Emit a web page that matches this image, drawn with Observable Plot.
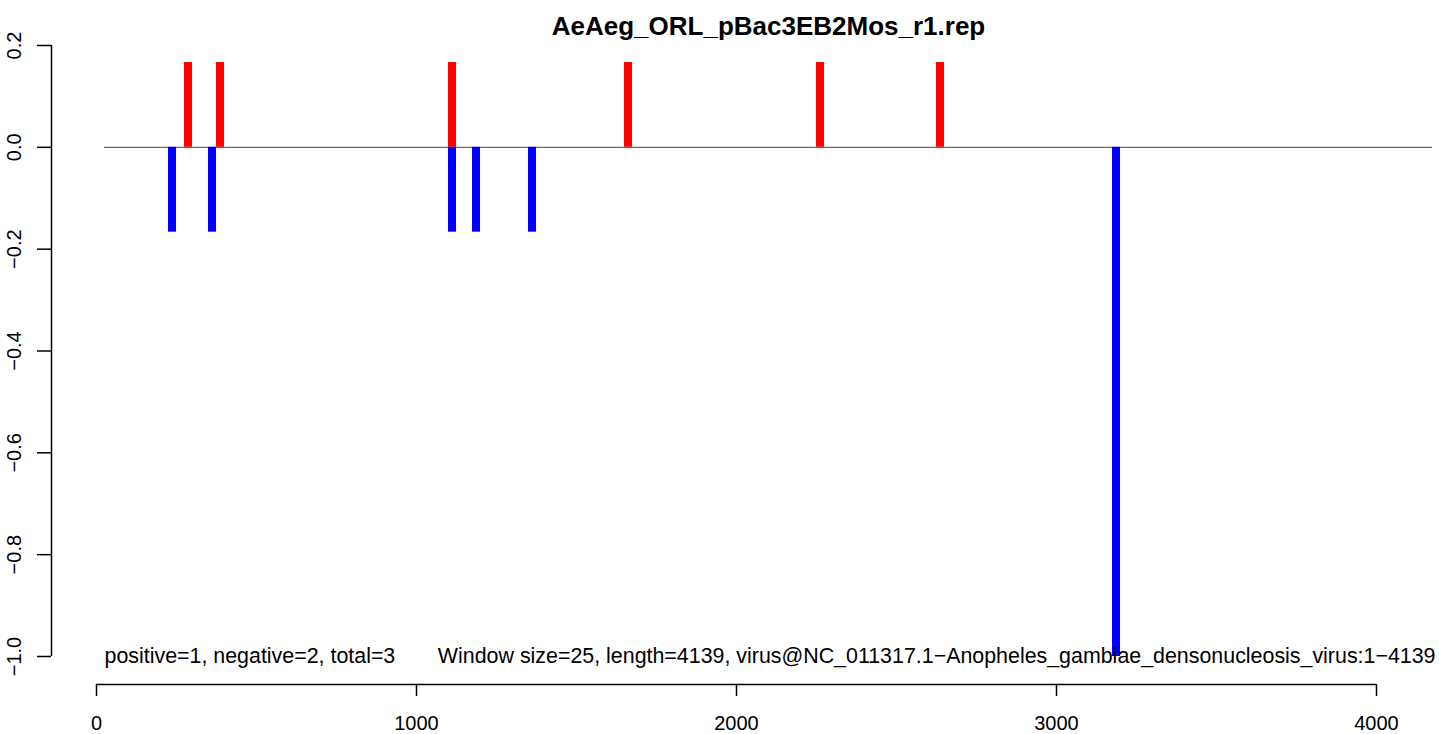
<!DOCTYPE html>
<html>
<head>
<meta charset="utf-8">
<script src="https://cdn.jsdelivr.net/npm/d3@7"></script>
<script src="https://cdn.jsdelivr.net/npm/@observablehq/plot@0.6"></script>
<style>
  html, body { margin: 0; padding: 0; background: #fff; }
  svg { display: block; }
</style>
</head>
<body>
<div id="chart"></div>
<script>
// ---- data ----
const title = "AeAeg_ORL_pBac3EB2Mos_r1.rep";
const windowSize = 25;
const seqStart = 25;
const seqEnd = 4175;
const posStarts = [275, 375, 1100, 1650, 2250, 2625];
const posValues = [0.1667, 0.1667, 0.1667, 0.1667, 0.1667, 0.1667];
const negStarts = [225, 350, 1100, 1175, 1350, 3175];
const negValues = [-0.1667, -0.1667, -0.1667, -0.1667, -0.1667, -1.0];
const xTicks = [0, 1000, 2000, 3000, 4000];
const yTicks = [-1.0, -0.8, -0.6, -0.4, -0.2, 0.0, 0.2];
const leftNote = "positive=1, negative=2, total=3";
const rightNote = "Window size=25, length=4139, virus@NC_011317.1\u2212Anopheles_gambiae_densonucleosis_virus:1\u22124139";

// ---- tables built from the arrays ----
const pos = posStarts.map((s, i) => ({start: s, end: s + windowSize, value: posValues[i]}));
const neg = negStarts.map((s, i) => ({start: s, end: s + windowSize, value: negValues[i]}));

// ---- layout ----
const W = 1439, H = 734;
const xRange = [96, 1376];
const yRange = [656, 45];
const frameLeft = 51, frameBottom = 684;
const xInv = px => xTicks[0] + (px - xRange[0]) / (xRange[1] - xRange[0]) * (xTicks[xTicks.length - 1] - xTicks[0]);
const yInv = py => yTicks[0] + (py - yRange[0]) / (yRange[1] - yRange[0]) * (yTicks[yTicks.length - 1] - yTicks[0]);
const font = "'Liberation Sans', Arial, Helvetica, sans-serif";
const fmt = d => d3.format(".1f")(d).replace("-", "\u2212");

const chart = Plot.plot({
  width: W,
  height: H,
  marginLeft: frameLeft,
  marginRight: 0,
  marginTop: 0,
  marginBottom: H - frameBottom,
  style: {fontFamily: font, background: "#fff", color: "#000"},
  x: {domain: [xTicks[0], xTicks[xTicks.length - 1]], range: xRange, label: null},
  y: {domain: [yTicks[0], yTicks[yTicks.length - 1]], range: yRange, label: null},
  marks: [
    // zero baseline
    Plot.ruleY([0], {x1: seqStart, x2: seqEnd, stroke: "#666", strokeWidth: 1.2}),
    // bars
    Plot.rectY(pos, {x1: "start", x2: "end", y1: 0, y2: "value", fill: "#ff0000"}),
    Plot.rectY(neg, {x1: "start", x2: "end", y1: 0, y2: "value", fill: "#0000ff"}),
    // x axis
    Plot.ruleY([yInv(frameBottom)], {x1: xTicks[0], x2: xTicks[xTicks.length - 1], stroke: "#000", strokeWidth: 1.5}),
    Plot.axisX({ticks: xTicks, label: null, tickSize: 12, tickPadding: 19, fontSize: 20, strokeWidth: 1.5, tickFormat: d => String(d), fill: "#000"}),
    // y axis
    Plot.ruleX([xInv(frameLeft)], {y1: yTicks[0], y2: yTicks[yTicks.length - 1], stroke: "#000", strokeWidth: 1.5}),
    Plot.axisY({ticks: yTicks, label: null, tickSize: 14, tickPadding: 17, tickRotate: -90, fontSize: 20, strokeWidth: 1.5, tickFormat: fmt, fill: "#000"}),
    // title
    Plot.text([title], {x: (seqStart + seqEnd) / 2, frameAnchor: "top", dy: 34, lineAnchor: "bottom", text: d => d, fontSize: 26, fontWeight: "bold", fill: "#000"}),
    // notes
    Plot.text([leftNote], {x: seqStart, y: yTicks[0], text: d => d, textAnchor: "start", lineAnchor: "middle", fontSize: 21.4, fill: "#000"}),
    Plot.text([rightNote], {x: seqEnd, dx: 3, y: yTicks[0], text: d => d, textAnchor: "end", lineAnchor: "middle", fontSize: 21.4, fill: "#000"})
  ]
});
document.getElementById("chart").appendChild(chart);
</script>
</body>
</html>
